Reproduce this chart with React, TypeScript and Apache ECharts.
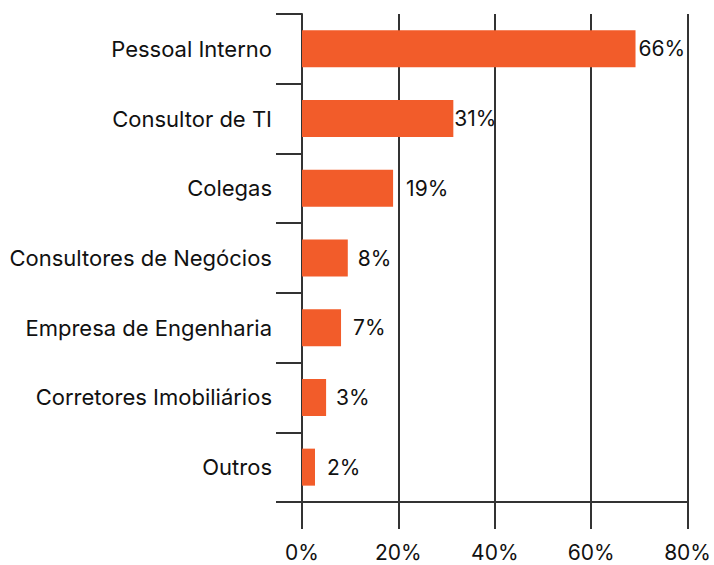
import React, { useEffect, useRef } from "react";
import * as echarts from "echarts";

const categories = [
  "Pessoal Interno",
  "Consultor de TI",
  "Colegas",
  "Consultores de Negócios",
  "Empresa de Engenharia",
  "Corretores Imobiliários",
  "Outros",
];
const barValues = [69.2, 31.4, 18.9, 9.5, 8.1, 5.0, 2.7];
const valueLabels = ["66%", "31%", "19%", "8%", "7%", "3%", "2%"];
const tickMin = 0;
const tickMax = 80;
const tickStep = 20;

const labelGaps = [3, 1, 13, 10, 12, 10, 12];

export default function App() {
  const ref = useRef<HTMLDivElement>(null);
  useEffect(() => {
    if (!ref.current) return;
    const chart = echarts.init(ref.current, null, { renderer: "svg" });
    const font = "Inter, Roboto, sans-serif";
    const lineColor = "#333333";
    chart.setOption({
      animation: false,
      grid: { left: 302, right: 26, top: 14, bottom: 63, containLabel: false },
      xAxis: {
        type: "value",
        min: tickMin,
        max: tickMax,
        interval: tickStep,
        axisLine: { show: true, lineStyle: { color: lineColor, width: 2 } },
        axisTick: { show: true, length: 27, lineStyle: { color: lineColor, width: 2 } },
        splitLine: { show: true, lineStyle: { color: lineColor, width: 2 } },
        axisLabel: {
          formatter: (v: number) => v + "%",
          color: "#111",
          fontSize: 21,
          fontFamily: font,
          margin: 40,
        },
      },
      yAxis: {
        type: "category",
        inverse: true,
        data: categories,
        axisLine: { show: true, lineStyle: { color: lineColor, width: 2 } },
        axisTick: { show: true, length: 26, lineStyle: { color: lineColor, width: 2 } },
        axisLabel: {
          color: "#111",
          fontSize: 22,
          fontFamily: font,
          margin: 30,
        },
      },
      series: [
        {
          type: "bar",
          barWidth: 37,
          itemStyle: { color: "#F25C2A" },
          data: barValues.map((v, i) => ({
            value: v,
            label: {
              show: true,
              position: "right",
              distance: labelGaps[i],
              formatter: valueLabels[i],
              color: "#111",
              fontSize: 21,
              fontFamily: font,
            },
          })),
        },
      ],
    });
    return () => chart.dispose();
  }, []);
  return (
    <div
      ref={ref}
      style={{ position: "absolute", left: 0, top: 0, width: 714, height: 565, background: "#fff" }}
    />
  );
}
